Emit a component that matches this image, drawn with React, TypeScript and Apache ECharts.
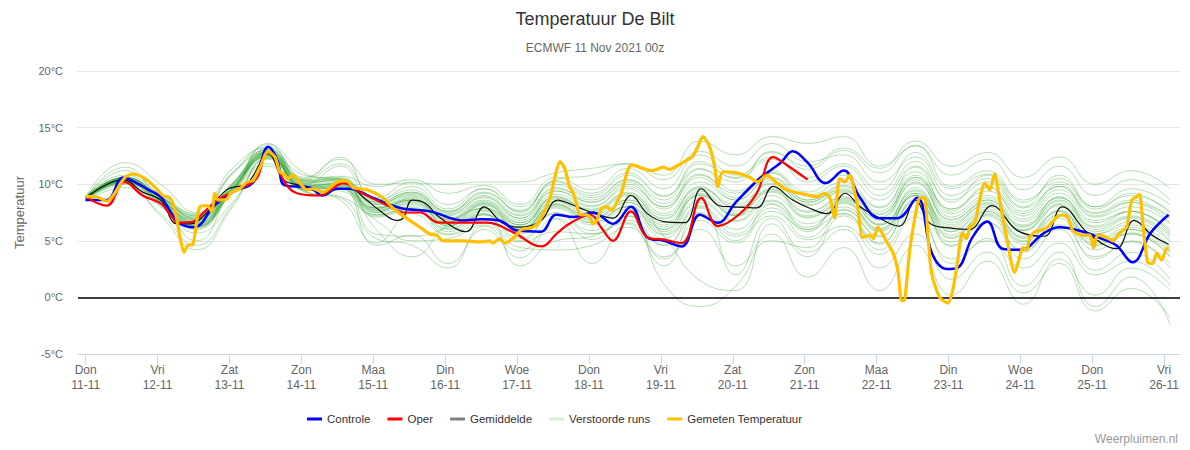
import React, { useEffect, useRef } from "react";
import * as echarts from "echarts";

const dayNames = ["Don", "Vri", "Zat", "Zon", "Maa", "Din", "Woe", "Don", "Vri", "Zat", "Zon", "Maa", "Din", "Woe", "Don", "Vri"];
const dayDates = ["11-11", "12-11", "13-11", "14-11", "15-11", "16-11", "17-11", "18-11", "19-11", "20-11", "21-11", "22-11", "23-11", "24-11", "25-11", "26-11"];
const tickHours = [0, 24, 48, 72, 96, 120, 144, 168, 192, 216, 240, 264, 288, 312, 336, 360];

// [hours since 11-11 00z, °C]
const controle: number[][] = [
  [0, 8.6], [7, 8.6], [12.5, 10.6], [17, 10.1], [21, 9.5], [25, 8.9], [28, 7.7], [31, 6.6], [36, 6.2], [38.5, 6.5],
  [42.5, 8.0], [49, 9.3], [56, 10.2], [61, 13.3], [64, 12.1], [66.5, 9.9], [75, 9.7], [79, 9.0], [84, 9.6], [88, 9.6],
  [95, 8.9], [105, 7.9], [115, 7.6], [126, 6.8], [132, 6.9], [138, 6.8], [144, 5.9], [152, 5.8], [157, 7.3], [163, 7.1],
  [169.5, 7.5], [176, 6.5], [182, 8.0], [187.5, 5.3], [193, 5.0], [199, 4.5], [205, 7.3], [211, 6.6], [217, 8.4], [225, 10.5],
  [232, 11.9], [236, 12.9], [241, 11.9], [247, 10.1], [253, 11.2], [258.5, 8.8], [265, 7.0], [271, 7.0], [277.5, 8.8], [282.5, 3.9],
  [287.5, 2.5], [291, 2.6], [296, 5.3], [301, 6.7], [306, 4.3], [312, 4.2], [320, 5.7], [325, 6.2], [333, 5.8], [339, 5.2],
  [344, 4.6], [349.5, 3.1], [355.5, 5.7], [361.5, 7.3],
];

const oper: number[][] = [
  [0, 8.9], [7, 8.1], [13, 10.2], [19, 9.0], [25, 8.3], [28, 7.4], [31, 6.6], [36, 6.7], [39, 7.4], [44, 8.6],
  [50.5, 9.5], [57, 10.5], [60.5, 12.8], [62.5, 12.6], [65.5, 10.6], [70.5, 9.2], [78, 9.0], [84, 9.9], [86, 10.1], [91.5, 9.3],
  [102.5, 7.9], [106, 7.5], [111.5, 7.5], [118, 6.6], [126, 6.6], [134, 6.6], [143, 5.7], [152, 4.5], [157.5, 5.7], [162, 6.6],
  [168.5, 7.3], [172, 6.2], [176, 5.0], [182, 7.6], [187.5, 5.3], [193, 5.1], [199, 4.8], [205.5, 8.8], [211, 6.3], [218, 7.3],
  [224, 9.2], [229.5, 12.4], [234, 11.7], [241, 10.4],
];

const gemiddelde: number[][] = [
  [0, 8.8], [12.5, 10.4], [19, 9.3], [25, 8.6], [30.5, 6.5], [35, 6.5], [39, 7.1], [47, 9.5], [54, 10.1], [61, 12.7],
  [66, 10.4], [71.5, 9.9], [79, 9.3], [86, 10.1], [92.5, 8.9], [98, 7.7], [104, 6.8], [106, 7.0], [109, 8.6], [113.5, 8.3],
  [118, 7.1], [127, 5.8], [133, 8.0], [139, 6.6], [145, 6.2], [152, 6.8], [157.5, 8.6], [164, 8.0], [171, 7.3], [176, 7.0],
  [182, 9.0], [187.5, 7.4], [193, 6.7], [200, 6.6], [205.5, 9.6], [211.5, 8.1], [216, 8.0], [224, 7.9], [229.5, 9.8], [236, 8.6],
  [241.5, 7.9], [247.5, 7.4], [253.5, 9.2], [258.5, 8.0], [263, 7.3], [271.5, 6.3], [277, 8.6], [282, 6.5], [289.5, 6.1], [295, 6.0],
  [302.5, 8.1], [311, 5.9], [320, 5.4], [326, 8.0], [334.5, 5.7], [344, 4.3], [350, 6.8], [356, 5.5], [361.5, 4.7],
];

const gemeten: number[][] = [
  [0, 8.9], [3.1, 8.9], [7.1, 8.5], [13.1, 10.6], [15.8, 10.9], [19.1, 10.6], [22.5, 9.9], [25.8, 9.0], [28.1, 8.8], [29.8, 7.7],
  [31.5, 5.3], [32.8, 4.0], [34.1, 4.6], [35.8, 4.7], [38.1, 8.0], [40.5, 8.1], [42.1, 7.6], [43.1, 9.2], [44.2, 8.6], [47.2, 8.7],
  [48.2, 9.2], [51.5, 9.6], [53.8, 10.2], [55.8, 10.3], [58.2, 11.5], [60.8, 12.9], [63.2, 12.4], [64.8, 11.1], [66.5, 10.8], [67.5, 10.5],
  [69.2, 10.8], [71.5, 10.1], [73.8, 9.5], [75.9, 9.6], [79.2, 9.3], [83.9, 10.2], [87.2, 10.3], [89.2, 9.7], [93.9, 9.5], [99.2, 8.8],
  [102.5, 7.9], [104.9, 7.4], [108.2, 6.8], [111.6, 6.2], [114.9, 5.6], [117.2, 5.5], [119.2, 5.0], [125.9, 5.0], [131.6, 4.9], [134.9, 5.0],
  [135.9, 4.8], [138.2, 5.2], [139.9, 4.8], [142.6, 5.2], [145.6, 6.0], [149.3, 6.2], [151.6, 6.8], [155.0, 8.8], [156.6, 10.6], [158.3, 12.0],
  [159.9, 11.4], [161.6, 9.7], [162.6, 9.3], [164.0, 8.1], [165.0, 7.3], [167.3, 7.3], [168.3, 7.1], [169.3, 6.5], [170.6, 6.8], [172.3, 7.9],
  [174.0, 8.0], [175.6, 7.7], [177.3, 8.4], [178.9, 9.3], [180.9, 11.2], [182.3, 11.7], [185.9, 11.4], [188.3, 11.2], [190.6, 11.3], [192.6, 11.5],
  [195.0, 11.3], [196.6, 11.5], [199.3, 11.9], [202.7, 12.5], [204.3, 13.3], [206.0, 14.2], [208.3, 13.3], [210.0, 11.5], [211.0, 9.8], [212.7, 11.1],
  [217.3, 11.0], [221.7, 10.6], [224.4, 10.2], [227.4, 10.8], [230.7, 10.1], [234.0, 9.5], [238.4, 9.2], [244.0, 8.9], [246.7, 9.2], [248.4, 8.8],
  [250.0, 7.0], [251.7, 10.5], [253.4, 10.2], [255.1, 10.8], [256.7, 9.3], [257.7, 8.0], [259.4, 5.3], [261.7, 5.5], [263.0, 5.2], [264.4, 6.2],
  [267.4, 4.9], [269.4, 4.0], [271.1, 2.4], [272.4, -0.3], [273.4, -0.2], [275.1, 4.2], [277.4, 7.9], [278.4, 8.8], [280.0, 8.8], [281.1, 5.7],
  [282.4, 2.1], [285.1, 0.0], [287.8, -0.5], [289.4, 0.6], [291.1, 3.3], [292.7, 5.7], [294.1, 5.2], [295.1, 6.2], [296.8, 6.6], [298.4, 8.6],
  [300.1, 10.1], [301.8, 9.5], [303.4, 10.9], [305.1, 8.6], [307.4, 5.3], [310.1, 2.2], [311.8, 3.6], [312.8, 4.4], [314.2, 4.2], [315.1, 5.3],
  [316.8, 5.8], [318.5, 5.9], [321.1, 6.2], [324.2, 7.1], [326.2, 7.3], [327.8, 7.1], [329.5, 5.9], [332.5, 5.5], [335.2, 5.5], [336.5, 4.4],
  [337.8, 5.5], [340.8, 5.3], [342.8, 5.0], [345.2, 5.7], [347.5, 6.2], [349.2, 8.6], [350.9, 8.9], [351.8, 9.1], [352.8, 6.8], [354.5, 3.1],
  [356.2, 3.0], [357.5, 3.9], [359.2, 3.3], [360.8, 4.3], [361.5, 4.3],
];

// Ensemble members ("Verstoorde runs"), values at these hours
const ensHours = [0, 13, 25, 37, 49, 61, 73, 85, 97, 109, 121, 133, 145, 157, 169, 181, 193, 205, 217, 229, 241, 253, 265, 277, 289, 301, 313, 325, 337, 349, 362];

const ens01 = [8.9, 11.9, 10.0, 7.5, 11.4, 13.2, 10.5, 12.4, 8.5, 9.8, 7.8, 9.6, 7.5, 10.2, 9.0, 10.8, 8.9, 12.0, 10.5, 12.2, 10.6, 11.8, 9.5, 12.8, 9.6, 10.9, 8.4, 10.5, 8.0, 9.0, 7.6];
const ens02 = [8.5, 9.7, 7.4, 4.6, 8.2, 12.3, 9.4, 8.6, 4.8, 7.4, 5.5, 6.6, 4.9, 5.8, 5.6, 6.8, 4.6, 7.4, 5.4, 7.2, 5.1, 6.3, 3.8, 7.1, 3.4, 5.0, 2.6, 4.8, 2.0, 3.2, 1.1];
const ens03 = [8.8, 10.6, 8.9, 7.0, 9.9, 12.9, 10.2, 10.3, 8.2, 9.0, 7.2, 8.6, 7.0, 9.4, 8.4, 10.0, 7.8, 10.8, 9.2, 11.0, 9.0, 10.2, 8.0, 11.1, 7.8, 9.4, 7.2, 9.5, 7.1, 8.0, 6.5];
const ens04 = [8.6, 10.2, 8.3, 6.1, 9.4, 11.8, 9.6, 9.6, 7.3, 7.9, 6.0, 7.3, 5.6, 7.9, 6.4, 7.8, 5.6, 8.4, 6.7, 8.5, 6.5, 7.7, 5.4, 8.6, 4.9, 6.6, 4.2, 6.4, 3.6, 4.9, 3.0];
const ens05 = [8.7, 10.5, 8.7, 6.4, 9.6, 12.8, 10.8, 10.4, 7.5, 8.8, 6.3, 8.3, 6.0, 8.2, 7.1, 8.4, 6.0, 9.1, 7.2, 10.3, 8.4, 9.8, 7.9, 11.5, 7.6, 9.7, 6.9, 9.2, 6.8, 7.6, 5.6];
const ens06 = [8.7, 10.3, 8.4, 5.0, 9.5, 12.4, 9.5, 9.7, 4.6, 5.5, 3.0, 6.0, 3.5, 6.9, 3.0, 6.5, 2.8, 7.5, 5.0, 8.2, 5.8, 8.4, 6.1, 9.0, 5.5, 7.4, 4.9, 7.3, 4.6, 5.7, 3.9];
const ens07 = [8.8, 11.5, 8.7, 6.8, 10.9, 12.8, 10.0, 11.6, 8.0, 8.7, 7.0, 8.5, 6.8, 9.1, 8.0, 9.8, 8.0, 11.3, 10.2, 12.9, 11.3, 13.0, 11.0, 13.4, 10.8, 12.2, 9.5, 11.6, 9.0, 10.4, 8.6];
const ens08 = [8.7, 10.4, 8.5, 6.5, 9.6, 12.6, 9.8, 9.9, 7.6, 8.3, 6.5, 7.7, 6.0, 8.3, 6.8, 8.0, 5.8, 8.6, 6.8, 9.0, 7.0, 8.5, 6.0, 9.7, 6.0, 8.0, 5.3, 8.2, 5.0, 6.0, 4.0];
const ens09 = [8.6, 10.2, 8.2, 6.3, 9.4, 13.5, 11.0, 10.1, 7.9, 8.6, 6.9, 7.9, 6.4, 8.5, 7.3, 8.6, 6.4, 9.0, 7.2, 8.6, 6.0, 7.4, 4.2, 7.6, 3.0, 5.2, 1.0, 4.0, -0.8, 1.8, -2.4];
const ens10 = [8.9, 10.6, 8.9, 7.2, 10.0, 13.0, 10.3, 10.6, 8.6, 9.5, 7.6, 9.0, 7.3, 9.7, 8.4, 10.2, 8.0, 10.6, 8.6, 10.6, 8.6, 9.9, 7.6, 10.8, 7.4, 9.0, 6.7, 8.8, 6.3, 7.6, 5.8];
const ens11 = [8.5, 10.0, 7.2, 4.2, 8.0, 12.2, 9.3, 8.8, 5.2, 4.6, 2.6, 6.3, 4.1, 7.0, 5.1, 7.2, 4.6, 8.0, 5.6, 7.9, 5.3, 7.4, 4.7, 8.6, 4.5, 7.2, 4.0, 7.0, 3.4, 5.0, 2.6];
const ens12 = [8.8, 11.2, 9.0, 7.4, 11.0, 13.3, 10.6, 12.2, 10.0, 10.1, 10.0, 10.2, 10.2, 11.0, 11.4, 11.8, 10.4, 12.9, 11.6, 13.6, 12.0, 12.6, 10.2, 12.4, 9.0, 10.5, 7.9, 9.8, 7.2, 8.4, 6.6];
const ens13 = [8.7, 10.4, 8.6, 6.7, 9.7, 12.7, 9.9, 10.0, 7.7, 8.4, 6.6, 8.2, 6.4, 8.9, 7.8, 9.3, 7.2, 9.8, 7.9, 9.5, 7.2, 8.7, 6.5, 9.5, 6.2, 8.3, 6.0, 8.6, 6.2, 7.2, 5.5];
const ens14 = [8.6, 10.1, 8.1, 6.0, 9.3, 12.4, 9.6, 9.8, 5.6, 5.4, 6.2, 7.4, 2.8, 5.0, 5.4, 6.6, 3.6, 6.0, 2.8, 5.6, 1.8, 4.4, 0.6, 4.6, 0.2, 3.2, -0.6, 3.4, 0.2, 2.6, 0.6];
const ens15 = [8.8, 10.5, 8.8, 6.9, 9.9, 12.8, 10.1, 10.4, 8.3, 9.1, 7.3, 8.9, 7.0, 9.4, 8.1, 9.6, 7.4, 10.2, 8.6, 10.5, 8.4, 9.6, 7.3, 10.6, 7.1, 8.8, 6.4, 8.9, 6.0, 7.1, 5.3];
const ens16 = [8.7, 10.3, 8.5, 6.4, 9.6, 12.6, 9.8, 9.8, 7.5, 8.2, 6.3, 7.6, 5.8, 8.0, 6.6, 8.1, 6.0, 9.0, 7.3, 9.4, 7.5, 8.9, 6.8, 10.1, 6.9, 8.4, 5.9, 8.3, 5.6, 6.4, 4.5];
const ens17 = [8.8, 10.6, 8.8, 7.1, 10.1, 13.1, 10.4, 10.7, 9.8, 10.4, 9.2, 9.9, 8.2, 10.6, 9.5, 11.4, 9.6, 12.6, 10.8, 12.4, 10.2, 11.6, 9.0, 12.0, 8.4, 10.8, 8.0, 10.8, 8.0, 9.6, 8.2];
const ens18 = [8.6, 10.2, 8.3, 6.2, 9.3, 11.6, 9.5, 9.4, 7.1, 7.8, 5.8, 7.3, 5.2, 7.4, 5.9, 7.6, 5.2, 8.1, 6.0, 8.3, 6.2, 8.0, 5.8, 9.2, 5.8, 7.8, 5.2, 7.7, 4.8, 5.6, 3.6];
const ens19 = [8.7, 10.5, 8.7, 6.6, 9.8, 12.7, 10.0, 10.2, 7.9, 8.9, 6.8, 8.4, 6.6, 8.7, 7.7, 9.2, 7.0, 9.6, 8.0, 10.0, 8.2, 9.4, 7.4, 10.4, 6.8, 8.6, 6.3, 8.5, 5.8, 7.0, 5.0];
const ens20 = [8.6, 10.3, 8.4, 6.3, 9.5, 12.5, 9.7, 9.9, 6.0, 3.6, 6.5, 7.8, 6.1, 8.2, 6.6, 8.0, 5.5, 7.9, 2.0, 7.0, 4.0, 6.0, 2.6, 5.6, 1.6, 4.0, 0.4, 3.0, -1.2, 0.8, -1.8];
const ens21 = [8.9, 10.8, 9.1, 7.3, 11.0, 13.0, 10.3, 10.5, 8.4, 9.3, 7.5, 9.3, 7.7, 10.0, 8.8, 10.4, 8.3, 10.9, 8.8, 11.2, 9.3, 10.8, 8.6, 11.6, 8.6, 10.2, 7.6, 10.0, 7.5, 8.6, 7.0];
const ens22 = [8.7, 10.4, 8.6, 6.6, 9.7, 12.7, 9.9, 10.0, 7.7, 8.5, 6.4, 7.9, 6.2, 8.5, 7.0, 8.6, 5.4, 1.5, 0.6, 6.5, 3.6, 7.2, 4.8, 8.4, 5.2, 7.6, 5.0, 7.6, 4.6, 6.0, 4.4];
const ens23 = [8.7, 10.3, 8.5, 6.5, 9.6, 12.6, 9.8, 10.1, 7.8, 8.6, 6.7, 8.1, 6.4, 8.8, 7.4, 9.0, 6.9, 9.7, 8.2, 10.1, 8.1, 9.3, 7.1, 10.2, 6.6, 8.2, 5.9, 8.1, 5.6, 6.7, 4.9];
const ens24 = [8.8, 10.6, 8.9, 7.0, 10.0, 12.9, 10.2, 10.5, 8.4, 9.3, 7.6, 9.2, 7.6, 10.3, 9.2, 11.0, 9.0, 11.4, 9.4, 11.0, 8.6, 9.5, 6.4, 9.0, 4.6, 6.6, 3.4, 6.0, 2.4, 4.0, 1.6];
const ens25 = [8.6, 10.1, 8.0, 5.7, 8.4, 12.3, 9.4, 8.9, 6.8, 5.0, 5.2, 6.4, 4.4, 4.2, 4.6, 6.2, 3.4, 6.8, 4.8, 7.6, 6.0, 8.6, 7.0, 10.6, 7.8, 9.8, 7.4, 9.8, 7.4, 8.4, 7.0];
const ens26 = [8.7, 10.4, 8.6, 6.8, 9.7, 12.8, 9.9, 10.1, 7.9, 8.6, 6.9, 8.3, 6.6, 8.9, 7.6, 9.1, 6.6, 9.2, 7.4, 9.6, 7.6, 8.8, 6.4, 9.4, 5.8, 7.6, 5.4, 7.6, 5.2, 6.2, 4.2];
const ens27 = [8.8, 10.5, 8.8, 6.9, 9.9, 13.6, 10.1, 10.4, 8.2, 9.2, 7.4, 8.8, 7.2, 9.6, 8.6, 10.4, 8.6, 11.8, 10.6, 12.8, 11.6, 13.2, 11.4, 13.8, 11.6, 12.8, 10.6, 12.4, 10.0, 11.2, 9.6];
const ens28 = [8.6, 10.2, 8.3, 6.3, 9.4, 12.5, 9.7, 9.7, 7.3, 8.0, 6.1, 7.4, 5.9, 8.1, 6.9, 8.4, 6.2, 9.4, 7.6, 9.3, 7.1, 8.3, 5.9, 9.0, 5.3, 7.3, 4.7, 7.2, 4.2, 5.6, 3.6];
const ens29 = [8.7, 10.3, 8.4, 6.2, 9.4, 12.5, 9.7, 9.6, 7.2, 7.8, 5.6, 7.0, 5.0, 7.5, 5.6, 7.2, 1.2, -0.8, 1.0, 5.0, 4.4, 7.8, 5.4, 9.2, 6.4, 8.6, 6.2, 8.8, 6.6, 7.6, 6.0];
const ens30 = [8.8, 10.6, 8.9, 7.2, 10.1, 13.1, 10.4, 11.8, 8.8, 10.2, 8.2, 9.6, 8.0, 10.4, 10.8, 11.8, 10.8, 13.8, 12.6, 14.2, 13.6, 14.2, 11.6, 13.4, 9.8, 11.2, 8.6, 10.2, 7.8, 9.2, 7.4];

const ensembleMembers = [
  ens01, ens02, ens03, ens04, ens05, ens06, ens07, ens08, ens09, ens10,
  ens11, ens12, ens13, ens14, ens15, ens16, ens17, ens18, ens19, ens20,
  ens21, ens22, ens23, ens24, ens25, ens26, ens27, ens28, ens29, ens30,
];

const FONT = 'Arial, "Liberation Sans", Helvetica, sans-serif';

export default function App() {
  const ref = useRef<HTMLDivElement>(null);

  useEffect(() => {
    if (!ref.current) return;
    const chart = echarts.init(ref.current, null, { renderer: "svg" });

    const ensembleSeries = ensembleMembers.map((vals) => ({
      name: "Verstoorde runs",
      type: "line",
      data: ensHours.map((h, i) => [h, vals[i]]),
      smooth: 0.5,
      symbol: "none",
      silent: true,
      lineStyle: { color: "rgba(45,160,45,0.34)", width: 1 },
      itemStyle: { color: "#d6efd6" },
      z: 1,
    }));

    const option: any = {
      animation: false,
      textStyle: { fontFamily: FONT },
      title: [
        {
          text: "Temperatuur De Bilt",
          left: "center",
          top: 5,
          textStyle: { fontSize: 18, fontWeight: "normal", color: "#333", fontFamily: FONT },
        },
        {
          text: "ECMWF 11 Nov 2021 00z",
          left: "center",
          top: 37,
          textStyle: { fontSize: 12, fontWeight: "normal", color: "#666", fontFamily: FONT },
        },
      ],
      legend: {
        left: 307,
        top: 413,
        padding: 0,
        icon: "rect",
        itemWidth: 15,
        itemHeight: 3,
        itemGap: 17,
        textStyle: { fontSize: 11.5, color: "#333", fontFamily: FONT },
        data: [
          { name: "Controle", itemStyle: { color: "#0000ff" } },
          { name: "Oper", itemStyle: { color: "#ff0000" } },
          { name: "Gemiddelde", itemStyle: { color: "#808080" } },
          { name: "Verstoorde runs", itemStyle: { color: "#d6efd6" } },
          { name: "Gemeten Temperatuur", itemStyle: { color: "#ffc000" } },
        ],
      },
      grid: { left: 78, right: 10, top: 71, bottom: 96, containLabel: false },
      xAxis: {
        type: "value",
        min: -2.57,
        max: 365.3,
        axisLine: { show: true, onZero: false, lineStyle: { color: "#ccd6eb", width: 1 } },
        axisTick: { show: true, customValues: tickHours, length: 10, lineStyle: { color: "#ccd6eb" } },
        splitLine: { show: false },
        axisLabel: {
          customValues: tickHours,
          color: "#666",
          fontSize: 12,
          lineHeight: 15,
          margin: 8,
          fontFamily: FONT,
          formatter: (v: number) => {
            const i = Math.round(v / 24);
            return dayNames[i] + "\n" + dayDates[i];
          },
        },
      },
      yAxis: {
        type: "value",
        min: -5,
        max: 20,
        interval: 5,
        name: "Temperatuur",
        nameLocation: "middle",
        nameGap: 52,
        nameTextStyle: { color: "#666", fontSize: 13, fontFamily: FONT },
        axisLine: { show: false },
        axisTick: { show: false },
        splitLine: { lineStyle: { color: "#e6e6e6", width: 1 } },
        axisLabel: { formatter: "{value}°C", color: "#666", fontSize: 11, margin: 15, fontFamily: FONT },
      },
      series: [
        ...ensembleSeries,
        {
          name: "Gemiddelde",
          type: "line",
          data: gemiddelde,
          smooth: 0.4,
          symbol: "none",
          lineStyle: { color: "#111", width: 1.2 },
          itemStyle: { color: "#808080" },
          z: 3,
          markLine: {
            silent: true,
            symbol: ["none", "none"],
            label: { show: false },
            lineStyle: { color: "#000", width: 1.5, type: "solid" },
            data: [{ yAxis: 0 }],
          },
        },
        {
          name: "Controle",
          type: "line",
          data: controle,
          smooth: 0.4,
          symbol: "none",
          lineStyle: { color: "#0000ff", width: 2.5 },
          itemStyle: { color: "#0000ff" },
          z: 4,
        },
        {
          name: "Oper",
          type: "line",
          data: oper,
          smooth: 0.4,
          symbol: "none",
          lineStyle: { color: "#ff0000", width: 2.2 },
          itemStyle: { color: "#ff0000" },
          z: 5,
        },
        {
          name: "Gemeten Temperatuur",
          type: "line",
          data: gemeten,
          smooth: 0.25,
          symbol: "none",
          lineStyle: { color: "#ffc000", width: 3.2 },
          itemStyle: { color: "#ffc000" },
          z: 6,
        },
      ],
      graphic: [
        {
          type: "text",
          right: 12,
          top: 433,
          style: { text: "Weerpluimen.nl", fill: "#999", font: "12px " + FONT },
        },
      ],
    };

    chart.setOption(option);
    return () => chart.dispose();
  }, []);

  return <div ref={ref} style={{ position: "absolute", left: 0, top: 0, width: 1190, height: 450 }} />;
}
